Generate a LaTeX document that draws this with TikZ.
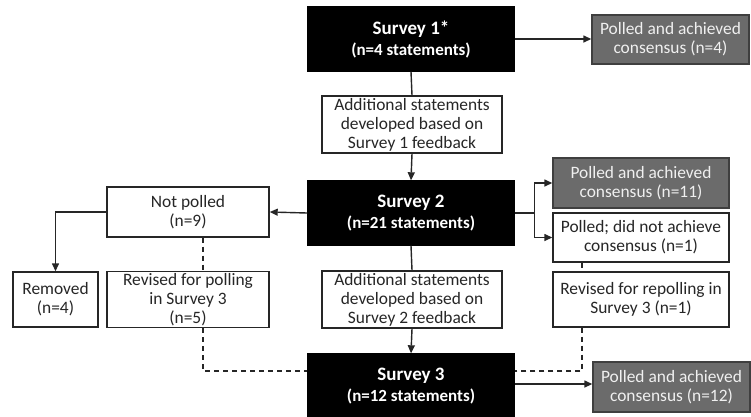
\documentclass[tikz,border=0pt]{standalone}
\usepackage{fontspec}
\setmainfont{Carlito}
\usetikzlibrary{arrows.meta,calc}
\definecolor{grayfill}{HTML}{6B6B6B}
\definecolor{grayedge}{HTML}{3F3F3F}
\definecolor{graytext}{HTML}{F0F0F0}
\tikzset{
  base/.style={rectangle, align=center, inner sep=2pt, line width=1.4pt, font=\fontsize{17.4}{19}\selectfont},
  wbox/.style={base, draw=black!85, fill=white, text=black!85},
  gbox/.style={base, draw=grayedge, fill=grayfill, text=graytext},
  bbox/.style={base, draw=black, fill=black, text=white, minimum width=206pt, minimum height=64pt},
  conn/.style={line width=1.4pt, draw=black!85},
  arr/.style={conn, -{Triangle[length=8pt,width=7pt]}},
  dsh/.style={conn, dash pattern=on 5pt off 4pt},
}
\newcommand{\survtitle}[2]{{\fontsize{19}{19}\selectfont\bfseries #1}\\[2pt]{\fontsize{17}{19}\selectfont\bfseries #2}}
\begin{document}
\begin{tikzpicture}[x=1pt,y=-1pt]
\useasboundingbox (0,0) rectangle (751,416);
% black survey boxes
\node[bbox] (s1) at (411,39) {\survtitle{Survey 1*}{(n=4 statements)}};
\node[bbox] (s2) at (411,213) {\survtitle{Survey 2}{(n=21 statements)}};
\node[bbox] (s3) at (411,386) {\survtitle{Survey 3}{(n=12 statements)}};
% gray consensus boxes
\node[gbox, minimum width=157pt, minimum height=49pt] (g1) at (670.5,39.5) {Polled and achieved\\consensus (n=4)};
\node[gbox, minimum width=176pt, minimum height=50pt] (g2) at (641,183) {Polled and achieved\\consensus (n=11)};
\node[gbox, minimum width=157pt, minimum height=50pt] (g3) at (671.5,387) {Polled and achieved\\consensus (n=12)};
% white boxes
\node[wbox, minimum width=180pt, minimum height=53pt] (a1) at (412,124.5) {Additional statements\\developed based on\\Survey 1 feedback};
\node[wbox, minimum width=180pt, minimum height=55pt] (a2) at (412,299.5) {Additional statements\\developed based on\\Survey 2 feedback};
\node[wbox, minimum width=162pt, minimum height=50pt] (np) at (188,212) {Not polled\\(n=9)};
\node[wbox, minimum width=85pt, minimum height=55pt] (rm) at (55.5,299.5) {Removed\\(n=4)};
\node[wbox, minimum width=162pt, minimum height=55pt] (rp) at (188,299.5) {Revised for polling\\in Survey 3\\(n=5)};
\node[wbox, minimum width=176pt, minimum height=49pt] (pd) at (641,237.5) {Polled; did not achieve\\consensus (n=1)};
\node[wbox, minimum width=176pt, minimum height=55pt] (rr) at (641,299.5) {Revised for repolling in\\Survey 3 (n=1)};
% connectors
\draw[arr] (s1.east) -- (g1.west |- s1.east);
\draw[conn] (s1.south) -- (a1.north);
\draw[arr] (a1.south) -- (s2.north);
\draw[arr] (s2.west) -- (np.east);
\draw[arr] (np.west) -| (rm.north);
\draw[dsh] ([xshift=15pt]np.south) -- ([xshift=15pt]rp.north);
\draw[dsh] ([xshift=15pt]rp.south) |- ([yshift=15pt]s3.west);
\draw[conn] (s2.south) -- (a2.north);
\draw[arr] (a2.south) -- (s3.north);
\draw[arr] (s2.east) -- ++(20,0) |- (g2.west);
\draw[arr] (s2.east) -- ++(20,0) |- (pd.west);
\draw[dsh] ([xshift=-59pt]pd.south) -- ([xshift=-59pt]rr.north);
\draw[dsh] ([xshift=-59pt]rr.south) |- ([yshift=15pt]s3.east);
\draw[arr] ([yshift=2pt]s3.east) -- ([yshift=2pt]s3.east -| g3.west);
\end{tikzpicture}
\end{document}
